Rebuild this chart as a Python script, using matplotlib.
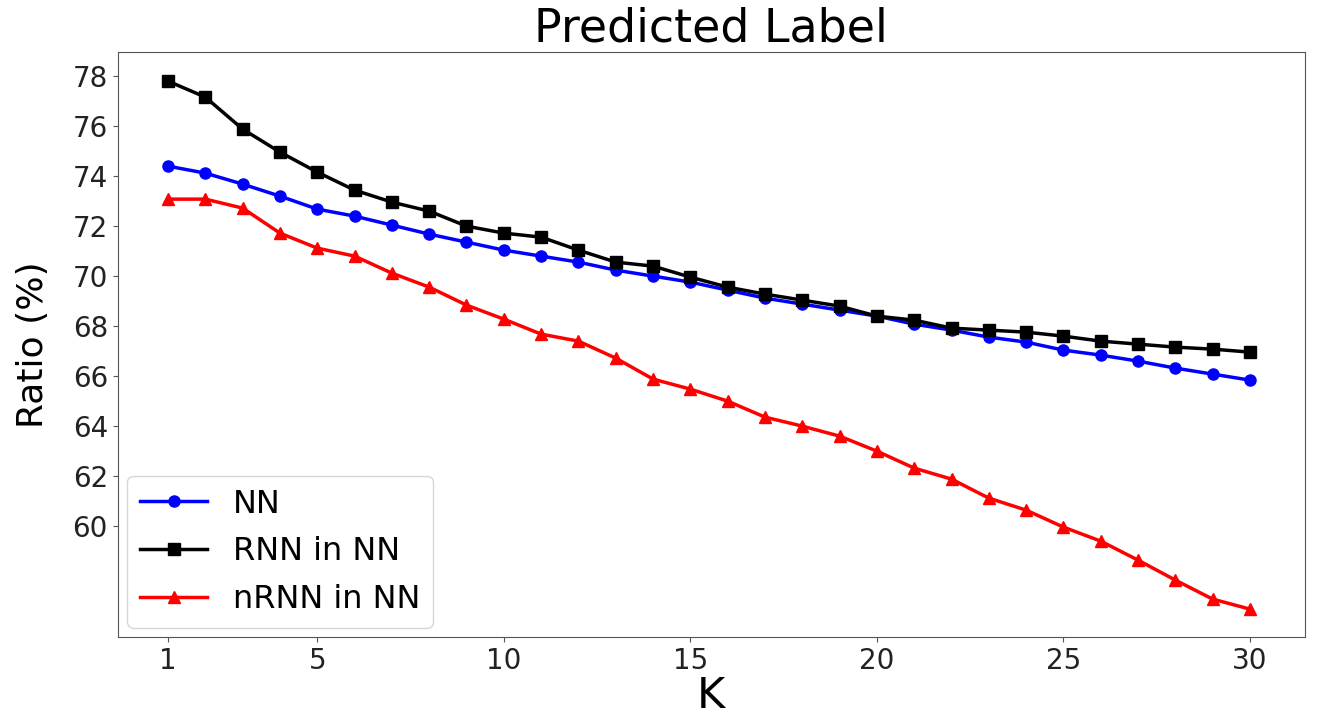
import matplotlib
matplotlib.use('Agg')
import matplotlib.pyplot as plt

# K values and ratio (%) per method
k_values = list(range(1, 31))
nn = [74.40, 74.12, 73.68, 73.20, 72.68, 72.40, 72.04, 71.68, 71.36, 71.04,
      70.80, 70.56, 70.24, 70.00, 69.76, 69.44, 69.12, 68.88, 68.64, 68.40,
      68.08, 67.84, 67.56, 67.36, 67.04, 66.84, 66.60, 66.32, 66.08, 65.84]
rnn_in_nn = [77.80, 77.16, 75.88, 74.96, 74.16, 73.44, 72.96, 72.60, 72.00, 71.72,
             71.56, 71.04, 70.56, 70.40, 69.96, 69.56, 69.28, 69.04, 68.80, 68.40,
             68.24, 67.92, 67.84, 67.76, 67.60, 67.40, 67.28, 67.16, 67.08, 66.96]
nrnn_in_nn = [73.08, 73.08, 72.72, 71.72, 71.12, 70.80, 70.12, 69.56, 68.84, 68.28,
              67.68, 67.40, 66.72, 65.88, 65.48, 65.00, 64.36, 64.00, 63.60, 63.00,
              62.32, 61.88, 61.12, 60.64, 59.96, 59.40, 58.64, 57.84, 57.08, 56.68]

x_ticks = [1, 5, 10, 15, 20, 25, 30]
y_ticks = list(range(60, 80, 2))

fig = plt.figure(figsize=(13.22, 7.24), dpi=100)
ax = fig.add_axes([0.089, 0.12, 0.898, 0.808])

ax.plot(k_values, nn, color='blue', marker='o', markersize=8, linewidth=2.5, label='NN')
ax.plot(k_values, rnn_in_nn, color='black', marker='s', markersize=8, linewidth=2.5, label='RNN in NN')
ax.plot(k_values, nrnn_in_nn, color='red', marker='^', markersize=9, linewidth=2.5, label='nRNN in NN')

ax.set_xlim(-0.35, 31.47)
ax.set_ylim(55.56, 78.96)
ax.set_xticks(x_ticks)
ax.set_yticks(y_ticks)
ax.tick_params(labelsize=20, colors='#555555', labelcolor='#222222')
for sp in ax.spines.values():
    sp.set_color('#555555')

ax.set_title('Predicted Label', fontsize=33, pad=8)
ax.set_xlabel('K', fontsize=31, labelpad=0)
ax.set_ylabel('Ratio (%)', fontsize=26, labelpad=16)

ax.legend(loc='lower left', fontsize=23, handlelength=2.1, labelspacing=0.52,
          borderaxespad=0.3)

fig.savefig('out.png', dpi=100)
